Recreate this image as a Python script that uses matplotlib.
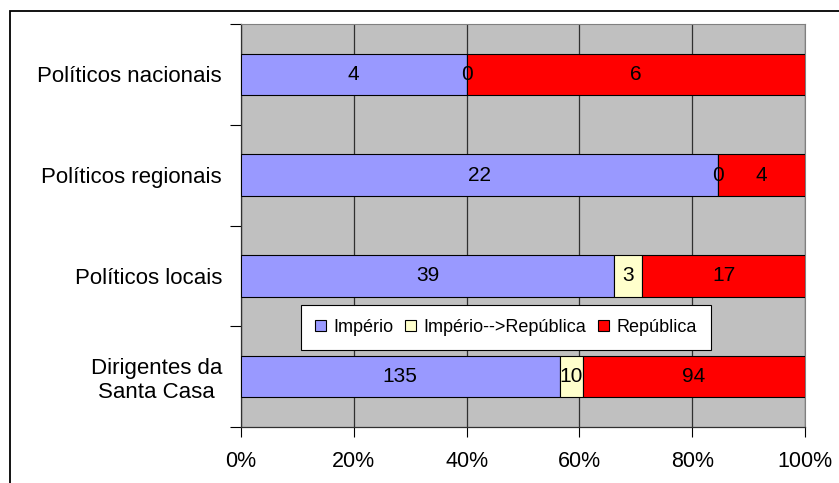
import matplotlib
matplotlib.use("Agg")
import matplotlib.pyplot as plt
from matplotlib.patches import Rectangle, Patch
import numpy as np

plt.rcParams['font.family'] = ['Liberation Sans', 'DejaVu Sans']

categories = ["Políticos nacionais", "Políticos regionais", "Políticos locais",
              "Dirigentes da\nSanta Casa"]
series_names = ["Império", "Império-->República", "República"]
imperio = [4, 22, 39, 135]
transicao = [0, 0, 3, 10]
republica = [6, 4, 17, 94]
xtick_labels = ["0%", "20%", "40%", "60%", "80%", "100%"]

colors = ["#9999FF", "#FFFFCC", "#FF0000"]

fig = plt.figure(figsize=(8.39, 4.83), dpi=100)
fig.patch.set_facecolor("white")

# outer chart frame
fig.patches.append(Rectangle((10 / 839, -0.2), 1.2, 0.2 + (483 - 11) / 483,
                             transform=fig.transFigure, fill=False,
                             edgecolor="black", linewidth=1.3, zorder=0))

ax = fig.add_axes([241 / 839, 56 / 483, 564 / 839, 403 / 483])
ax.set_facecolor("#C0C0C0")

data = np.array([imperio, transicao, republica], dtype=float)
totals = data.sum(axis=0)
pct = data / totals * 100
y = np.arange(len(categories))
left = np.zeros(len(categories))
bar_h = 0.41
for i, name in enumerate(series_names):
    ax.barh(y, pct[i], left=left, height=bar_h, color=colors[i],
            edgecolor="black", linewidth=0.8, label=name, zorder=3)
    for j in range(len(categories)):
        ax.text(left[j] + pct[i][j] / 2, y[j], f"{int(data[i][j])}",
                ha="center", va="center", fontsize=15, color="black", zorder=4)
    left = left + pct[i]

ax.set_xlim(0, 100)
ax.set_ylim(len(categories) - 0.5, -0.5)

ax.set_xticks(np.linspace(0, 100, 6))
ax.set_xticklabels(xtick_labels, fontsize=15.5)
ax.tick_params(axis="x", direction="out", length=7, width=0.8, pad=10, color="black")
ax.xaxis.grid(True, color="#303030", linewidth=0.9, zorder=1)
ax.set_axisbelow(True)

ax.set_yticks(y)
ax.set_yticklabels(categories, fontsize=16, multialignment="center")
ax.tick_params(axis="y", which="major", length=0, pad=13.7)
ax.set_yticks(np.arange(-0.5, len(categories), 1.0), minor=True)
ax.tick_params(axis="y", which="minor", direction="out", length=8, width=0.8, color="black")

for side in ["top", "right"]:
    ax.spines[side].set_color("#808080")
    ax.spines[side].set_linewidth(0.8)
for side in ["left", "bottom"]:
    ax.spines[side].set_color("#303030")
    ax.spines[side].set_linewidth(0.9)

handles = [Patch(facecolor=c, edgecolor="black", linewidth=0.8) for c in colors]
leg = ax.legend(handles, series_names, ncol=3, loc="center",
                bbox_to_anchor=(60 / 564, 75 / 403, 410 / 564, 49 / 403),
                mode="expand", fontsize=13, frameon=True, fancybox=False,
                framealpha=1, edgecolor="black", borderaxespad=0,
                handlelength=0.6, handleheight=0.6, handletextpad=0.4,
                columnspacing=1.2, borderpad=0.8)
leg.get_frame().set_linewidth(0.8)
leg.set_zorder(5)

fig.savefig("out.png", dpi=100)
